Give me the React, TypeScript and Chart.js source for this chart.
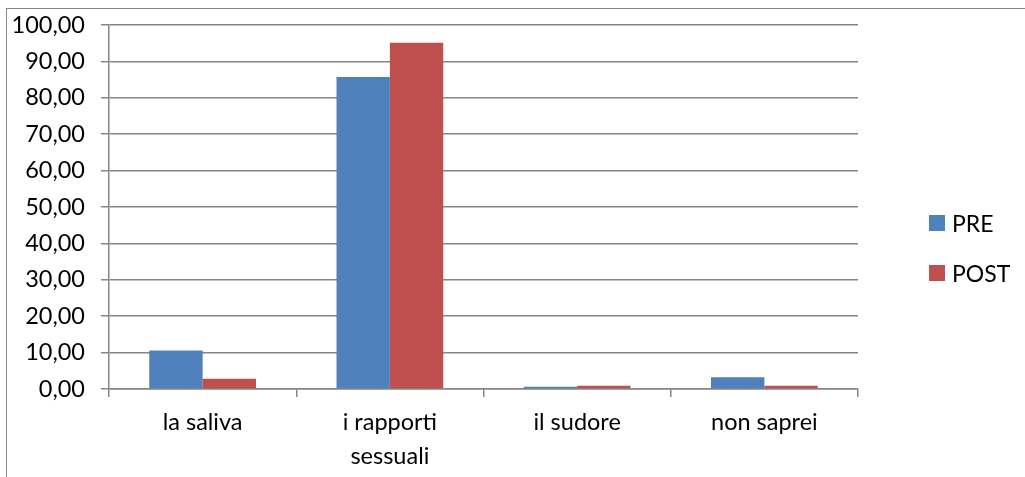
import React, { useEffect, useRef } from "react";
import { Chart, registerables } from "chart.js";

Chart.register(...registerables);

const categories: (string | string[])[] = ["la saliva", ["i rapporti", "sessuali"], "il sudore", "non saprei"];
const preValues = [10.6, 85.7, 0.6, 3.2];
const postValues = [2.8, 95.1, 0.9, 0.9];
const seriesNames = ["PRE", "POST"];
const seriesColors = ["#4F81BD", "#C0504D"];

const FONT = "Lato, 'Open Sans', sans-serif";
const GRID = "#868686";

export default function App() {
  const ref = useRef<HTMLCanvasElement | null>(null);

  useEffect(() => {
    if (!ref.current) return;
    const chart = new Chart(ref.current, {
      type: "bar",
      data: {
        labels: categories,
        datasets: [
          { label: seriesNames[0], data: preValues, backgroundColor: seriesColors[0] },
          { label: seriesNames[1], data: postValues, backgroundColor: seriesColors[1] },
        ],
      },
      options: {
        responsive: false,
        animation: false,
        layout: { padding: { left: 9, right: 167, top: 25, bottom: 0 } },
        plugins: { legend: { display: false }, tooltip: { enabled: false } },
        datasets: { bar: { categoryPercentage: 0.57, barPercentage: 1 } },
        scales: {
          x: {
            grid: { display: true, drawOnChartArea: false, drawTicks: true, tickLength: 8, offset: true, color: GRID, lineWidth: 1.5 },
            border: { display: true, color: GRID, width: 1.5 },
            ticks: { color: "#000", font: { family: FONT, size: 23.5, lineHeight: 1.45 }, padding: 8, maxRotation: 0 },
            afterFit: (s: any) => { s.height = 88; s.paddingLeft = 0; s.paddingRight = 0; },
          },
          y: {
            min: 0,
            max: 100,
            grid: { color: GRID, lineWidth: 1.5, tickLength: 8 },
            border: { display: true, color: GRID, width: 1.5 },
            ticks: {
              stepSize: 10,
              color: "#000",
              font: { family: FONT, size: 23.5 },
              padding: 16,
              callback: (v: any) => Number(v).toFixed(2).replace(".", ","),
            },
            afterFit: (s: any) => { s.width = 100; s.paddingTop = 0; s.paddingBottom = 0; },
          },
        },
      },
    });
    return () => chart.destroy();
  }, []);

  const legendItem = (i: number, top: number) => (
    <div key={i} style={{ position: "absolute", left: 929, top, display: "flex", alignItems: "center", fontFamily: FONT, fontSize: 23, color: "#000" }}>
      <div style={{ width: 16, height: 16, background: seriesColors[i], marginRight: 7 }} />
      <span style={{ lineHeight: "24px" }}>{seriesNames[i]}</span>
    </div>
  );

  return (
    <div style={{ position: "fixed", left: 0, top: 0, width: 1025, height: 477, overflow: "hidden", background: "#fff" }}>
      <div style={{ position: "absolute", left: 6, top: 8, width: 1100, height: 600, border: "1.5px solid #868686" }} />
      <canvas ref={ref} width={1025} height={477} style={{ position: "absolute", left: 0, top: 0 }} />
      {legendItem(0, 211)}
      {legendItem(1, 261)}
    </div>
  );
}
